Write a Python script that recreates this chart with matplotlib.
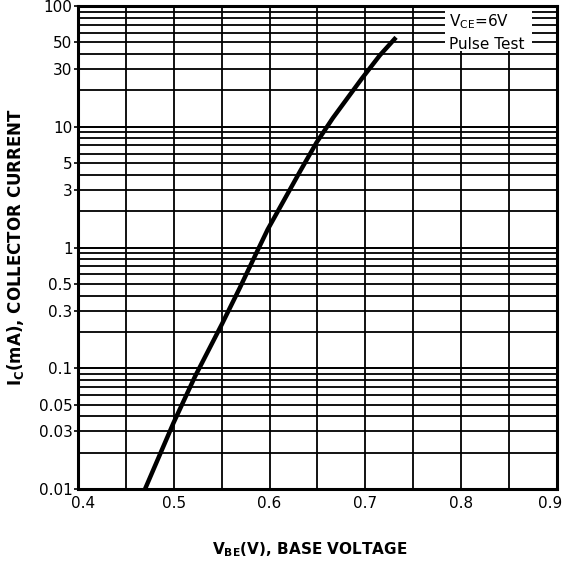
import matplotlib
matplotlib.use("Agg")
import matplotlib.pyplot as plt
import matplotlib.transforms as mtransforms
import numpy as np

# Data
vbe = [0.470, 0.4995, 0.522, 0.550, 0.569, 0.585, 0.598, 0.632, 0.649, 0.666, 0.696, 0.715, 0.732]
ic = [0.01, 0.035, 0.085, 0.23, 0.465, 0.86, 1.41, 4.3, 7.4, 11.8, 24.9, 39, 55]

ytick_vals = [0.01, 0.03, 0.05, 0.1, 0.3, 0.5, 1, 3, 5, 10, 30, 50, 100]
ytick_labels = ["0.01", "0.03", "0.05", "0.1", "0.3", "0.5", "1", "3", "5", "10", "30", "50", "100"]
xtick_vals = [0.4, 0.5, 0.6, 0.7, 0.8, 0.9]
xtick_labels = ["0.4", "0.5", "0.6", "0.7", "0.8", "0.9"]

plt.rcParams['font.family'] = ['DejaVu Sans']
plt.rcParams['mathtext.fontset'] = 'dejavusans'

fig = plt.figure(figsize=(5.65, 5.63), dpi=100)
ax = fig.add_axes([78/565, 1-489/563, (557-78)/565, (489-6)/563])

ax.set_yscale('log')
ax.set_xlim(0.4, 0.9)
ax.set_ylim(0.01, 100)

# grid lines
for v in np.arange(0.45, 0.9, 0.05):
    ax.axvline(v, color='black', lw=1.3, zorder=1)
for dec in [0.01, 0.1, 1, 10]:
    for m in range(1, 11):
        ax.axhline(dec*m, color='black', lw=1.3, zorder=1)

# legend box
ax.fill_between([0.783, 0.874], [42, 42], [110, 110], color='white', zorder=2, lw=0)
ax.text(0.787, 74, r"V$_{\mathregular{CE}}$=6V", fontsize=11, ha='left', va='center', zorder=3)
ax.text(0.787, 48, "Pulse Test", fontsize=11, ha='left', va='center', zorder=3)

ax.plot(vbe, ic, color='black', lw=3.2, solid_capstyle='butt', solid_joinstyle='round', zorder=4)

ax.set_yticks(ytick_vals)
ax.set_yticklabels(ytick_labels, fontsize=11)
ax.yaxis.set_minor_locator(matplotlib.ticker.NullLocator())
ax.set_xticks(xtick_vals)
ax.set_xticklabels(xtick_labels, fontsize=11)
ax.tick_params(axis='y', length=3, width=1.2, pad=1)
ax.tick_params(axis='x', length=0, pad=5)

xlabels = ax.get_xticklabels()
xlabels[0].set_transform(xlabels[0].get_transform() + mtransforms.ScaledTranslation(5/100, 0, fig.dpi_scale_trans))
xlabels[-1].set_transform(xlabels[-1].get_transform() + mtransforms.ScaledTranslation(-7/100, 0, fig.dpi_scale_trans))

for s in ax.spines.values():
    s.set_linewidth(2.2)
    s.set_zorder(5)

ax.set_ylabel(r"$\mathbf{I_{C}}$(mA), COLLECTOR CURRENT", fontsize=12, fontweight='bold', labelpad=9)
ax.set_xlabel(r"$\mathbf{V_{BE}}$(V), BASE VOLTAGE", fontsize=11, fontweight='bold')
ax.xaxis.set_label_coords((310 - 78) / 479, (489 - 540) / 483)

fig.savefig("out.png", dpi=100)
